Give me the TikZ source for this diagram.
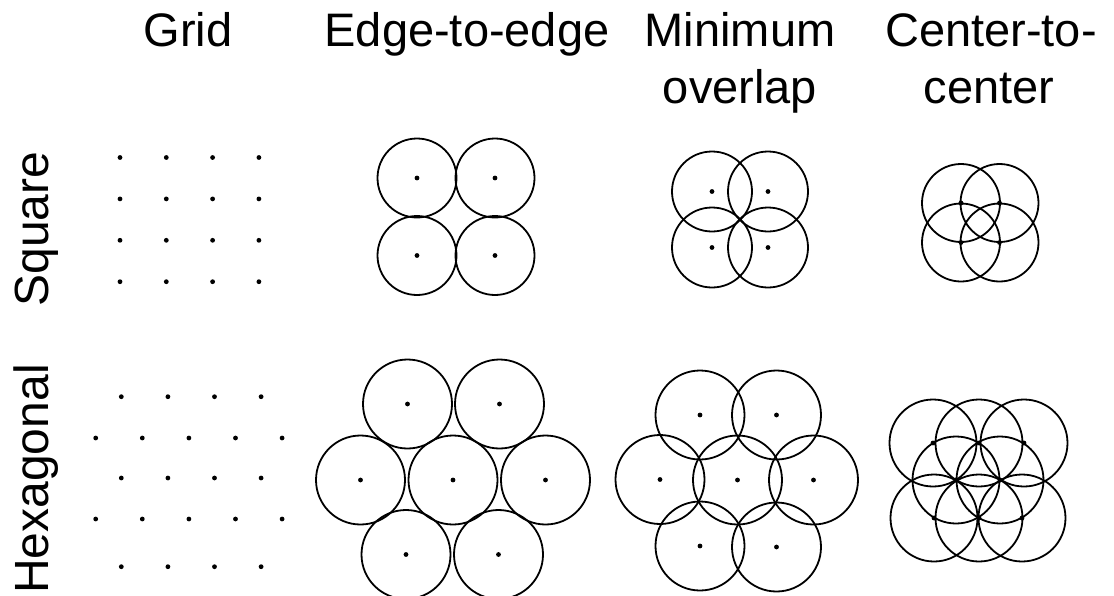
\documentclass[tikz,border=0pt]{standalone}
\usepackage{fontspec}
\setmainfont{Liberation Sans}

\begin{document}
\begin{tikzpicture}[x=1pt, y=-1pt,
        ring/.style={line width=1.8pt},
        head/.style={font=\fontsize{47}{56}\selectfont, inner sep=0pt, anchor=base},
        side/.style={font=\fontsize{48}{58}\selectfont, inner sep=0pt, anchor=base, rotate=90}]
        \useasboundingbox (0,0) rectangle (1114,595);

        % column titles
        \node[head] (grid) at (188,46) {Grid};
        \node[head] (edge) at (467,46) {Edge-to-edge};
        \node[head] (minA) at (740,46) {Minimum};
        \node[head] (minB) at (740,103) {overlap};
        \node[head] (ctrA) at (991,46) {Center-to-};
        \node[head] (ctrB) at (989,103) {center};

        % row titles
        \node[side] (square) at (48,229) {Square};
        \node[side] (hexa) at (48,479) {Hexagonal};

        % square grid
        \foreach \i in {0,...,3}
          \foreach \j in {0,...,3}
            \fill ({120+46.3*\i},{157.5+41.4*\j}) circle (2.4);

        % hexagonal grid
        \foreach \y/\xs/\n in {396.7/121.3/3, 438/95.7/4, 478/121.3/3, 519/95.7/4, 566.7/121.3/3}
          \foreach \i in {0,...,\n}
            \fill ({\xs+46.6*\i},\y) circle (2.4);

        % square, edge-to-edge
        \foreach \x/\y in {417/178, 495/178, 417/255.5, 495/255.5} {
          \draw[ring] (\x,\y) circle (39.5);
          \fill (\x,\y) circle (2.4);
        }

        % square, minimum overlap
        \foreach \x/\y in {712/191.5, 768/191.5, 712/247.5, 768/247.5} {
          \draw[ring] (\x,\y) circle (40);
          \fill (\x,\y) circle (2.4);
        }

        % square, center-to-center
        \foreach \x/\y in {961/203, 999.5/203, 961/242.5, 999.5/242.5} {
          \draw[ring] (\x,\y) circle (39);
          \fill (\x,\y) circle (2.4);
        }

        % hexagonal, edge-to-edge
        \foreach \x/\y in {407.5/404, 499.5/404, 360.5/480, 453/480, 545.5/480, 406/554.5, 498.5/554.5} {
          \draw[ring] (\x,\y) circle (44.5);
          \fill (\x,\y) circle (2.4);
        }

        % hexagonal, minimum overlap
        \foreach \x/\y in {700/415, 776.5/415, 660/479.5, 737.5/480, 813.5/480, 700/546, 776.5/547} {
          \draw[ring] (\x,\y) circle (44.5);
          \fill (\x,\y) circle (2.4);
        }

        % hexagonal, center-to-center
        \foreach \x/\y in {933/443, 979/443, 1024/443, 956/480, 1000/480, 934/518, 979/518, 1022/518} {
          \draw[ring] (\x,\y) circle (43.5);
          \fill (\x,\y) circle (2.4);
        }
\end{tikzpicture}
\end{document}
